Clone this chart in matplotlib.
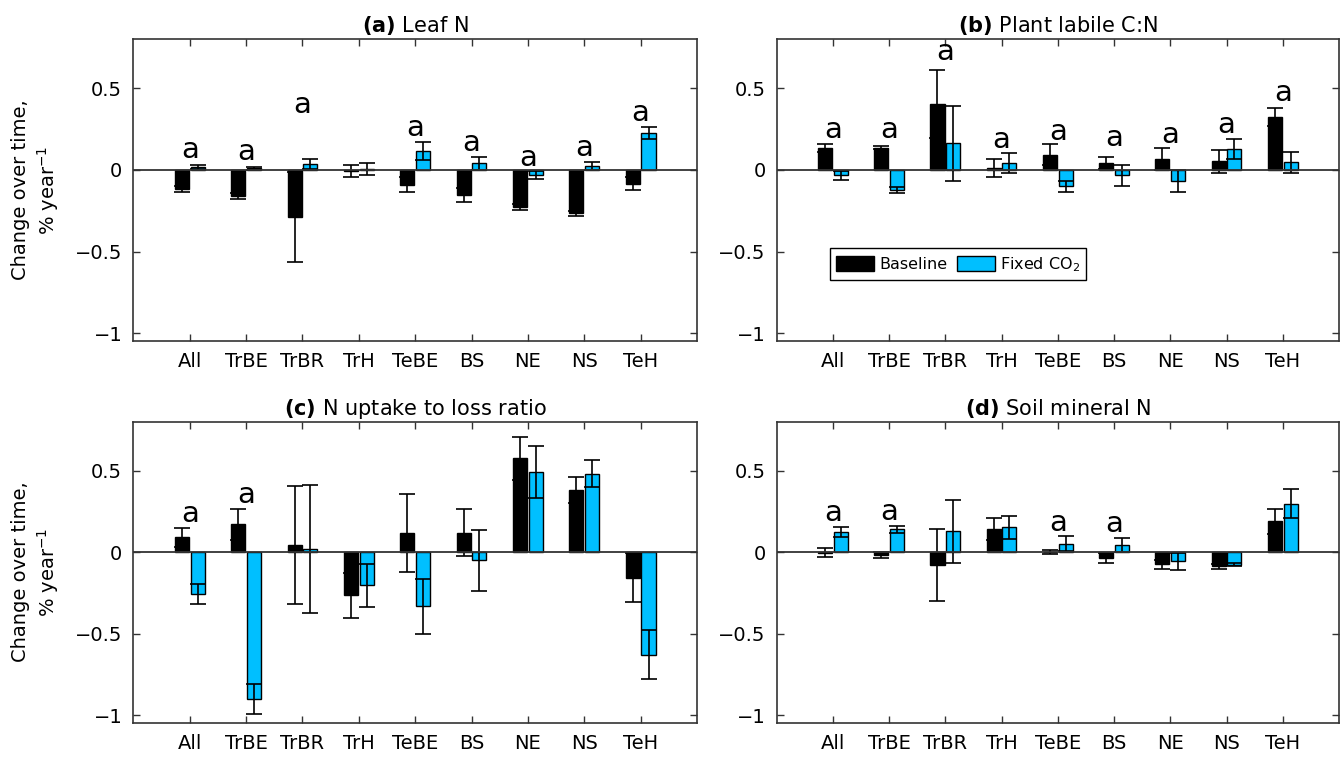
#! /usr/bin/env python3
'''
Trend per PFT under baseline vs fixed CO2, four panels with error bars
'''

import matplotlib
matplotlib.use('Agg')
import matplotlib.pyplot as plt
import numpy as np


# ---- data ----
pfts = ['All', 'TrBE', 'TrBR', 'TrH', 'TeBE', 'BS', 'NE', 'NS', 'TeH']

titles = [r'$\mathbf{(a)}$ Leaf N',
          r'$\mathbf{(b)}$ Plant labile C:N',
          r'$\mathbf{(c)}$ N uptake to loss ratio',
          r'$\mathbf{(d)}$ Soil mineral N']

# (a) Leaf N
leafn_base = [-0.115, -0.16, -0.29, -0.008, -0.091, -0.153, -0.226, -0.266, -0.083]
leafn_base_err = [0.018, 0.02, 0.275, 0.037, 0.046, 0.04, 0.019, 0.018, 0.038]
leafn_fix = [0.017, 0.01, 0.035, 0.006, 0.116, 0.041, -0.033, 0.024, 0.225]
leafn_fix_err = [0.013, 0.01, 0.03, 0.039, 0.055, 0.04, 0.024, 0.026, 0.037]
leafn_letters = [0.122, 0.112, 0.398, None, 0.257, 0.167, 0.073, 0.134, 0.348]

# (b) Plant labile C:N
labcn_base = [0.133, 0.137, 0.403, 0.014, 0.094, 0.043, 0.067, 0.053, 0.325]
labcn_base_err = [0.025, 0.01, 0.21, 0.055, 0.063, 0.038, 0.066, 0.069, 0.053]
labcn_fix = [-0.033, -0.122, 0.163, 0.043, -0.099, -0.033, -0.067, 0.13, 0.046]
labcn_fix_err = [0.027, 0.02, 0.228, 0.059, 0.034, 0.064, 0.066, 0.06, 0.062]
labcn_letters = [0.245, 0.245, 0.72, 0.184, 0.235, 0.196, 0.214, 0.276, 0.47]

# (c) N uptake to loss ratio
nul_base = [0.09, 0.17, 0.043, -0.265, 0.117, 0.12, 0.575, 0.383, -0.157]
nul_base_err = [0.06, 0.095, 0.36, 0.137, 0.238, 0.145, 0.133, 0.08, 0.15]
nul_fix = [-0.257, -0.90, 0.02, -0.204, -0.331, -0.051, 0.49, 0.482, -0.628]
nul_fix_err = [0.063, 0.09, 0.394, 0.133, 0.168, 0.188, 0.158, 0.083, 0.152]
nul_letters = [0.237, 0.353, None, None, None, None, None, None, None]

# (d) Soil mineral N
smn_base = [-0.003, -0.016, -0.08, 0.14, 0.002, -0.034, -0.074, -0.086, 0.189]
smn_base_err = [0.027, 0.02, 0.222, 0.068, 0.014, 0.03, 0.028, 0.016, 0.077]
smn_fix = [0.122, 0.14, 0.128, 0.153, 0.053, 0.045, -0.057, -0.076, 0.298]
smn_fix_err = [0.03, 0.02, 0.193, 0.071, 0.047, 0.042, 0.055, 0.01, 0.09]
smn_letters = [0.243, 0.249, None, None, 0.18, 0.17, None, None, None]

panels = [
    (leafn_base, leafn_base_err, leafn_fix, leafn_fix_err, leafn_letters),
    (labcn_base, labcn_base_err, labcn_fix, labcn_fix_err, labcn_letters),
    (nul_base, nul_base_err, nul_fix, nul_fix_err, nul_letters),
    (smn_base, smn_base_err, smn_fix, smn_fix_err, smn_letters),
]

# ---- styling ----
BLUE = '#00bfff'
SPINE = '#333333'
plt.rcParams['font.family'] = ['DejaVu Sans']
plt.rcParams['axes.unicode_minus'] = True

fig = plt.figure(figsize=(13.43, 7.6), dpi=100)

# axes rectangles [left, bottom, width, height] in figure fraction
rects = [
    [0.0993, 0.5517, 0.4197, 0.3966],
    [0.5783, 0.5517, 0.4187, 0.3966],
    [0.0993, 0.0491, 0.4197, 0.3961],
    [0.5783, 0.0491, 0.4187, 0.3961],
]

x = np.arange(1, len(pfts) + 1)
w = 0.25
off = 0.14

for i, (base, base_err, fix, fix_err, letters) in enumerate(panels):
    ax = fig.add_axes(rects[i])

    hb = ax.bar(x - off, base, w, color='black', edgecolor='black',
                linewidth=1.0, zorder=2, label='Baseline')
    hf = ax.bar(x + off, fix, w, color=BLUE, edgecolor='black',
                linewidth=1.0, zorder=2, label=r'Fixed CO$_2$')
    ax.errorbar(x - off, base, yerr=base_err, fmt='none', ecolor='black',
                elinewidth=1.2, capsize=6, capthick=1.2, zorder=3)
    ax.errorbar(x + off, fix, yerr=fix_err, fmt='none', ecolor='black',
                elinewidth=1.2, capsize=6, capthick=1.2, zorder=3)

    ax.axhline(0, color=SPINE, linewidth=1.3, zorder=4)

    for xi, ly in zip(x, letters):
        if ly is not None:
            ax.text(xi, ly, 'a', ha='center', va='center', fontsize=21,
                    zorder=5)

    ax.set_xlim(0, 10)
    ax.set_ylim(-1.045, 0.8)
    ax.set_xticks(x)
    ax.set_xticklabels(pfts)
    ax.set_yticks([-1, -0.5, 0, 0.5])
    ax.set_yticklabels(['\u22121', '\u22120.5', '0', '0.5'])
    ax.tick_params(direction='in', top=True, right=True, length=5,
                   width=1, color=SPINE, labelsize=14, pad=8)
    for sp in ax.spines.values():
        sp.set_color(SPINE)
        sp.set_linewidth(1.2)

    ax.set_title(titles[i], fontsize=15, pad=5)

    if i in (0, 2):
        ax.set_ylabel('Change over time,\n% year$^{-1}$', fontsize=14,
                      labelpad=10, linespacing=1.25)

    if i == 1:
        ax.legend(handles=[hb, hf], loc='lower left',
                  bbox_to_anchor=(0.08, 0.175), ncol=2, fontsize=11.5,
                  frameon=True, fancybox=False, edgecolor='black',
                  framealpha=1, handlelength=2.4, handleheight=1.1,
                  columnspacing=0.6, handletextpad=0.3,
                  borderpad=0.4)

fig.savefig('out.png', dpi=100)
